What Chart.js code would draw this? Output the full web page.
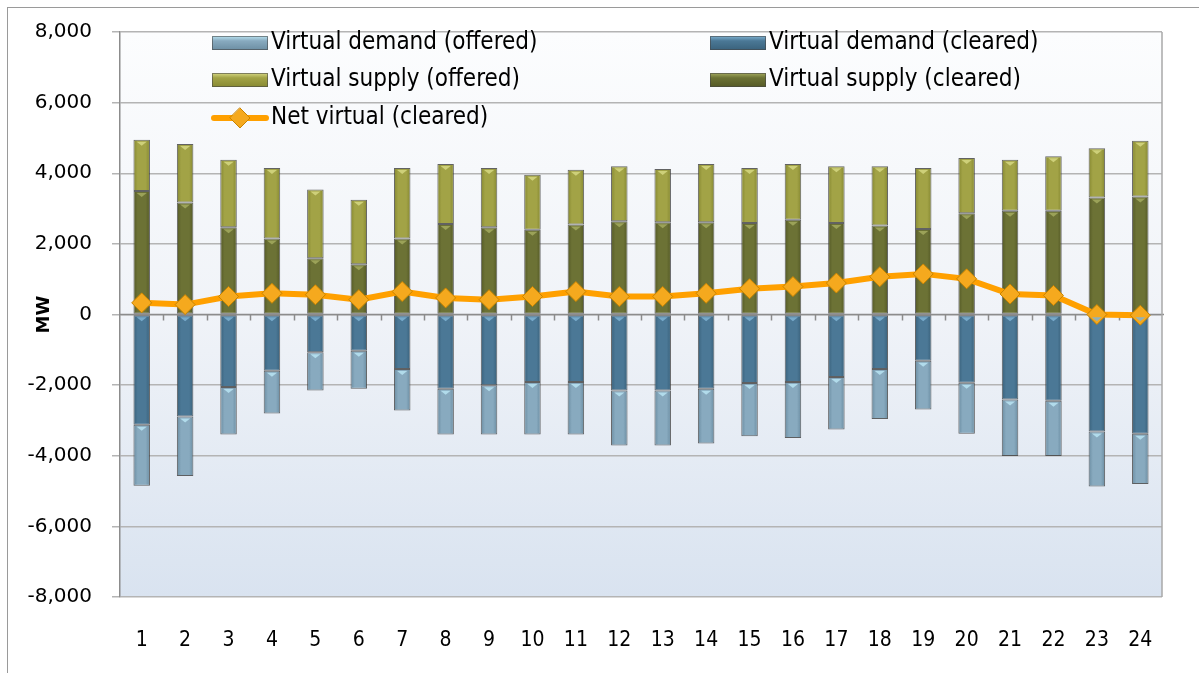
<!DOCTYPE html>
<html>
<head>
<meta charset="utf-8">
<script src="https://cdn.jsdelivr.net/npm/chart.js@4"></script>
<style>
  html, body { margin: 0; padding: 0; background: #fff; }
  #wrap { width: 1199px; height: 673px; }
</style>
</head>
<body>
<div id="wrap"><canvas id="chart"></canvas></div>
<script>
// Hourly virtual bids, MW
const hours = ['1','2','3','4','5','6','7','8','9','10','11','12','13','14','15','16','17','18','19','20','21','22','23','24'];
const supplyOffered = [4950, 4830, 4380, 4150, 3540, 3250, 4150, 4260, 4150, 3960, 4100, 4200, 4120, 4260, 4150, 4260, 4200, 4200, 4150, 4430, 4380, 4480, 4710, 4920];
const supplyCleared = [3500, 3170, 2470, 2150, 1590, 1420, 2150, 2560, 2470, 2400, 2550, 2640, 2610, 2610, 2590, 2680, 2590, 2520, 2420, 2870, 2940, 2940, 3310, 3340];
const demandOffered = [-4850, -4570, -3400, -2800, -2150, -2100, -2720, -3400, -3400, -3400, -3400, -3710, -3710, -3650, -3450, -3500, -3260, -2960, -2690, -3380, -4010, -4010, -4870, -4800];
const demandCleared = [-3120, -2890, -2050, -1590, -1070, -1030, -1540, -2100, -2000, -1910, -1910, -2150, -2150, -2100, -1940, -1910, -1770, -1540, -1310, -1930, -2410, -2440, -3310, -3380];
const netCleared = [330, 280, 510, 600, 560, 420, 650, 470, 420, 510, 650, 510, 510, 600, 730, 790, 890, 1070, 1150, 1010, 580, 540, 0, -20];
const yTicks = [-8000, -6000, -4000, -2000, 0, 2000, 4000, 6000, 8000];

// offered part shown above the cleared part
const supplyExtra = supplyOffered.map((v, i) => v - supplyCleared[i]);
const demandExtra = demandOffered.map((v, i) => v - demandCleared[i]);

const COL = {
    demOff: ['#6c8ea3', '#88aabf', '#b9e4f2'],
    demClr: ['#3a627c', '#4b7896', '#7fb3d3'],
    supOff: ['#878932', '#a2a346', '#d6d883'],
    supClr: ['#555a26', '#6c7235', '#a3aa5e']
};

// slightly darker edges on each bar
function barFill(pair) {
    return ctx => {
        const chart = ctx.chart;
        if (!chart.chartArea || ctx.dataIndex === undefined) return pair[1];
        const x = chart.scales.x.getPixelForValue(ctx.dataIndex);
        const g = chart.ctx.createLinearGradient(x - 8, 0, x + 8, 0);
        g.addColorStop(0, pair[0]);
        g.addColorStop(0.25, pair[1]);
        g.addColorStop(0.75, pair[1]);
        g.addColorStop(1, pair[0]);
        return g;
    };
}

function barSet(label, data, pair) {
    return {
        type: 'bar', label, data,
        backgroundColor: barFill(pair),
        legendColor: pair,
        borderColor: 'rgba(60,60,60,0.8)',
        borderWidth: 1,
        borderSkipped: false,
        barPercentage: 0.38,
        categoryPercentage: 1,
        stack: 'bids'
    };
}

const datasets = [
    barSet('Virtual demand (cleared)', demandCleared, COL.demClr),
    barSet('Virtual demand (offered)', demandExtra, COL.demOff),
    barSet('Virtual supply (cleared)', supplyCleared, COL.supClr),
    barSet('Virtual supply (offered)', supplyExtra, COL.supOff),
    {
        type: 'line', label: 'Net virtual (cleared)', data: netCleared,
        borderColor: '#ffa000', borderWidth: 6,
        pointStyle: 'rectRot', pointRadius: 10,
        pointBackgroundColor: '#f5a91e', pointBorderColor: '#c98400', pointBorderWidth: 1,
        tension: 0, stack: 'net', order: -1
    }
];

// legend order and slots as in the original
const legendOrder = [1, 0, 3, 2, 4];

const frame = {
    id: 'frame',
    beforeDraw(chart) {
        const { ctx, chartArea: a } = chart;
        ctx.save();
        ctx.fillStyle = '#fff';
        ctx.fillRect(0, 0, chart.width, chart.height);
        ctx.strokeStyle = '#9a9a9a';
        ctx.lineWidth = 1;
        ctx.strokeRect(7.5, 7.5, chart.width + 20, chart.height + 20);
        const g = ctx.createLinearGradient(0, a.top, 0, a.bottom);
        g.addColorStop(0, '#fcfdfe');
        g.addColorStop(0.5, '#f0f3f8');
        g.addColorStop(1, '#d9e3f0');
        ctx.fillStyle = g;
        ctx.fillRect(a.left, a.top, a.right - a.left, a.bottom - a.top);
        ctx.restore();
    },
    beforeDatasetsDraw(chart) {
        const { ctx, chartArea: a, scales: { x, y } } = chart;
        const y0 = y.getPixelForValue(0);
        ctx.save();
        ctx.strokeStyle = '#8c8c8c';
        ctx.lineWidth = 1.5;
        ctx.beginPath();
        ctx.moveTo(a.left, y0);
        ctx.lineTo(a.right + 2, y0);
        for (let i = 1; i < hours.length; i++) {
            const xp = Math.round((x.getPixelForValue(i - 1) + x.getPixelForValue(i)) / 2) + 0.5;
            ctx.moveTo(xp, y0);
            ctx.lineTo(xp, y0 + 6);
        }
        ctx.stroke();
        ctx.strokeStyle = '#a8a8a8';
        ctx.beginPath();
        ctx.moveTo(a.right, a.top);
        ctx.lineTo(a.right, a.bottom);
        ctx.stroke();
        ctx.restore();
    },
    afterDatasetsDraw(chart) {
        // small light shine at the top of each bar segment
        const ctx = chart.ctx;
        ctx.save();
        chart.data.datasets.forEach((ds, di) => {
            if (ds.type !== 'bar') return;
            const meta = chart.getDatasetMeta(di);
            meta.data.forEach(bar => {
                const neg = bar.y > bar.base;
                const top = neg ? bar.base : bar.y;
                if (Math.abs(bar.base - bar.y) < 8) return;
                ctx.fillStyle = ds.legendColor[2];
                ctx.globalAlpha = 0.85;
                ctx.beginPath();
                ctx.moveTo(bar.x - 5, top + 2);
                ctx.lineTo(bar.x + 5, top + 2);
                ctx.lineTo(bar.x, top + 6);
                ctx.closePath();
                ctx.fill();
            });
        });
        ctx.restore();
    },
    afterDraw(chart) {
        const ctx = chart.ctx;
        const slots = [[212, 43], [710, 43], [212, 80], [710, 80], [212, 118]];
        ctx.save();
        ctx.font = '24px "Liberation Sans Narrow", "DejaVu Sans Condensed", sans-serif';
        ctx.textBaseline = 'middle';
        legendOrder.forEach((di, k) => {
            const ds = chart.data.datasets[di];
            const [lx, ly] = slots[k];
            if (ds.type === 'bar') {
                const g = ctx.createLinearGradient(0, ly - 7, 0, ly + 7);
                g.addColorStop(0, ds.legendColor[2]);
                g.addColorStop(0.35, ds.legendColor[1]);
                g.addColorStop(1, ds.legendColor[0]);
                ctx.fillStyle = g;
                ctx.fillRect(lx, ly - 7, 56, 14);
                ctx.strokeStyle = 'rgba(70,70,70,0.6)';
                ctx.lineWidth = 1;
                ctx.strokeRect(lx + 0.5, ly - 6.5, 55, 13);
            } else {
                ctx.strokeStyle = ds.borderColor;
                ctx.lineWidth = 6;
                ctx.lineCap = 'round';
                ctx.beginPath();
                ctx.moveTo(lx + 2, ly);
                ctx.lineTo(lx + 54, ly);
                ctx.stroke();
                ctx.fillStyle = ds.pointBackgroundColor;
                ctx.strokeStyle = ds.pointBorderColor;
                ctx.lineWidth = 1;
                ctx.beginPath();
                ctx.moveTo(lx + 28, ly - 10);
                ctx.lineTo(lx + 38, ly);
                ctx.lineTo(lx + 28, ly + 10);
                ctx.lineTo(lx + 18, ly);
                ctx.closePath();
                ctx.fill();
                ctx.stroke();
            }
            ctx.fillStyle = '#000';
            ctx.fillText(ds.label, lx + 59, ly);
        });
        ctx.restore();
    }
};

new Chart(document.getElementById('chart'), {
    data: { labels: hours, datasets },
    options: {
        responsive: true,
        maintainAspectRatio: false,
        animation: false,
        layout: { padding: { left: 0, right: 37, top: 25, bottom: 0 } },
        plugins: { legend: { display: false }, tooltip: { enabled: false } },
        scales: {
            x: {
                stacked: true,
                grid: { display: false },
                border: { display: false },
                ticks: {
                    color: '#000', padding: 23,
                    font: { family: '"Liberation Sans Narrow", "DejaVu Sans Condensed", sans-serif', size: 21 }
                },
                afterFit: s => { s.height = 76; }
            },
            y: {
                stacked: true,
                min: -8000, max: 8000,
                afterBuildTicks: s => { s.ticks = yTicks.map(v => ({ value: v })); },
                grid: { color: '#b4b4b4', lineWidth: 1.5, tickLength: 8 },
                border: { color: '#8c8c8c', width: 1.5 },
                ticks: {
                    color: '#000', padding: 20,
                    font: { family: '"DejaVu Sans", sans-serif', size: 20 },
                    callback: v => v.toLocaleString('en-US')
                },
                title: {
                    display: true, text: 'MW', color: '#000',
                    font: { family: '"DejaVu Sans", sans-serif', size: 18, weight: 'bold' },
                    padding: { top: 34, bottom: 0 }
                },
                afterFit: s => { s.width = 120; }
            }
        }
    },
    plugins: [frame]
});
</script>
</body>
</html>
